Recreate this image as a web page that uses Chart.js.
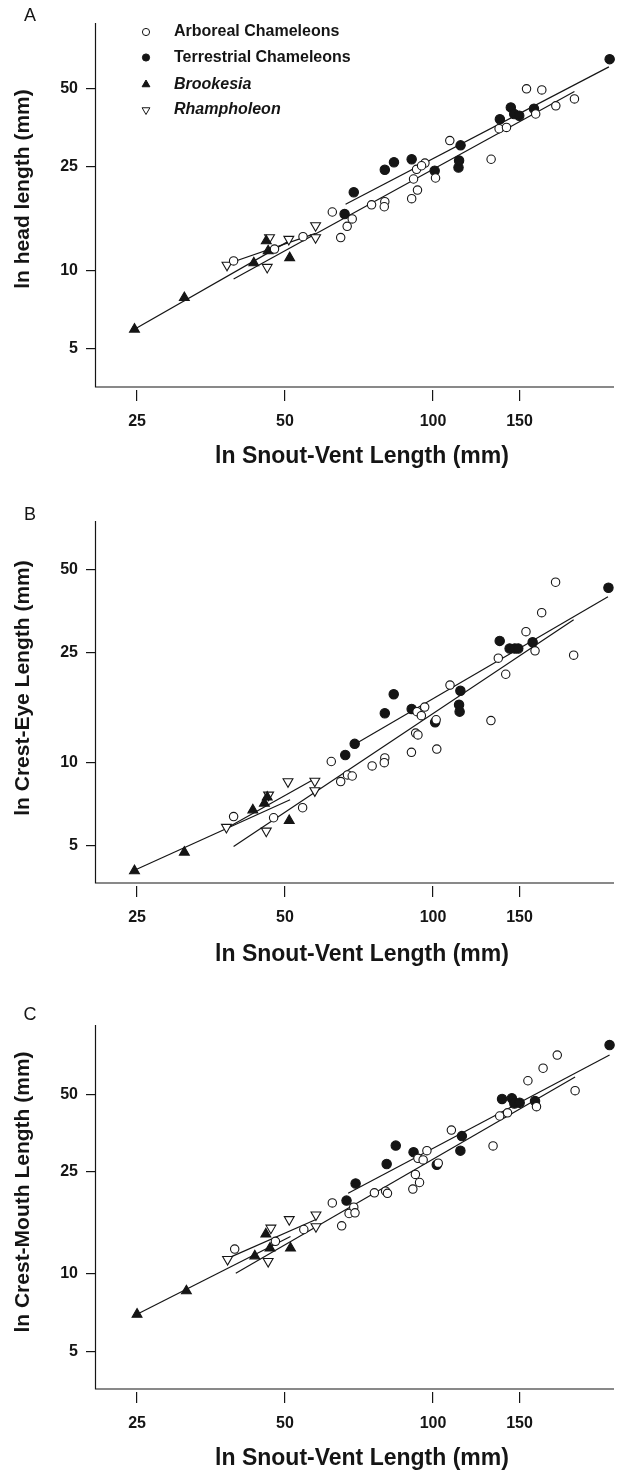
<!DOCTYPE html>
<html>
<head>
<meta charset="utf-8">
<title>Head dimensions vs snout-vent length</title>
<script src="https://cdn.jsdelivr.net/npm/chart.js@4.4.1/dist/chart.umd.min.js"></script>
<style>
  body { margin: 0; background: #fff; }
  canvas { display: block; }
</style>
</head>
<body>
<canvas id="chartA" width="623" height="480"></canvas>
<canvas id="chartB" width="623" height="490"></canvas>
<canvas id="chartC" width="623" height="506"></canvas>
<script>
// ticks
var svlTicks = [25, 50, 100, 150];
var sizeTicks = [5, 10, 25, 50];
var groupNames = ['Arboreal Chameleons', 'Terrestrial Chameleons', 'Brookesia', 'Rhampholeon'];

// A: head length
var arborealA_svl = [39.3, 47.6, 54.4, 62.4, 64.9, 66.9, 68.5, 75.0, 79.8, 79.6, 90.5, 93.0, 91.3, 92.6, 96.3, 94.8, 101.2, 108.2, 131.3, 136.3, 141.1, 155.0, 166.5, 161.8, 177.8, 194.0];
var arborealA_len = [10.9, 12.1, 13.5, 16.8, 13.4, 14.8, 15.8, 17.9, 18.4, 17.6, 18.9, 20.4, 22.5, 24.5, 25.9, 25.3, 22.7, 31.6, 26.8, 35.1, 35.5, 50.0, 49.5, 40.0, 43.0, 45.7];
var terrestrialA_svl = [66.1, 69.0, 79.8, 83.3, 90.5, 100.8, 112.7, 113.0, 113.8, 136.8, 144.0, 146.3, 149.8, 160.5, 228.8];
var terrestrialA_len = [16.5, 20.0, 24.4, 26.1, 26.8, 24.2, 24.9, 26.5, 30.3, 38.2, 42.4, 40.0, 39.4, 41.9, 65.0];
var brookesiaA_svl = [24.7, 31.2, 43.2, 45.8, 46.2, 51.1];
var brookesiaA_len = [5.95, 7.87, 10.7, 13.0, 11.9, 11.2];
var rhampholeonA_svl = [38.1, 46.0, 46.5, 50.9, 57.7, 57.7];
var rhampholeonA_len = [10.5, 10.3, 13.4, 13.2, 14.9, 13.4];
// A: fitted lines (end points)
var fitA_arb_svl = [39.3, 194.0], fitA_arb_len = [9.29, 48.8];
var fitA_ter_svl = [66.4, 228.0], fitA_ter_len = [18.0, 60.7];
var fitA_bro_svl = [24.7, 51.3], fitA_bro_len = [5.95, 13.1];
var fitA_rha_svl = [38.1, 57.7], fitA_rha_len = [10.6, 13.9];

// B: crest-eye length
var arborealB_svl = [39.3, 47.4, 54.3, 62.1, 64.9, 67.0, 68.5, 75.2, 79.8, 79.6, 90.4, 92.2, 93.2, 101.8, 96.2, 92.8, 94.7, 101.5, 108.3, 131.2, 135.8, 140.6, 154.6, 161.3, 166.4, 177.6, 193.3];
var arborealB_len = [6.38, 6.32, 6.87, 10.1, 8.54, 9.03, 8.95, 9.73, 10.4, 10.0, 10.9, 12.8, 12.6, 11.2, 15.9, 15.3, 14.8, 14.3, 19.1, 14.2, 23.9, 20.9, 29.8, 25.4, 34.9, 45.0, 24.5];
var terrestrialB_svl = [66.3, 69.3, 79.8, 83.2, 90.5, 101.0, 113.0, 113.3, 113.7, 136.7, 143.2, 146.7, 149.1, 159.5, 227.5];
var terrestrialB_len = [10.66, 11.7, 15.1, 17.7, 15.65, 14.0, 16.2, 15.3, 18.2, 27.6, 25.9, 25.9, 25.9, 27.3, 43.0];
var brookesiaB_svl = [24.7, 31.2, 43.0, 45.4, 46.0, 51.0];
var brookesiaB_len = [4.06, 4.74, 6.74, 7.13, 7.5, 6.17];
var rhampholeonB_svl = [38.0, 45.8, 46.3, 50.7, 57.5, 57.5];
var rhampholeonB_len = [5.84, 5.66, 7.64, 8.54, 8.58, 7.92];
var fitB_arb_svl = [39.3, 193.3], fitB_arb_len = [4.97, 32.9];
var fitB_ter_svl = [69.9, 227.0], fitB_ter_len = [11.75, 39.9];
var fitB_bro_svl = [24.7, 51.2], fitB_bro_len = [4.08, 7.34];
var fitB_rha_svl = [38.0, 56.9], fitB_rha_len = [5.79, 8.66];

// C: crest-mouth length
var arborealC_svl = [39.5, 47.8, 54.6, 62.4, 65.2, 67.5, 69.0, 69.4, 76.0, 80.1, 80.8, 91.0, 93.9, 92.1, 93.2, 95.5, 97.2, 102.5, 109.0, 132.5, 136.7, 141.8, 156.0, 167.5, 179.0, 162.4, 194.6];
var arborealC_len = [12.5, 13.4, 14.9, 18.9, 15.4, 17.2, 18.2, 17.3, 20.7, 21.0, 20.6, 21.4, 22.7, 24.4, 28.2, 27.8, 30.2, 27.0, 36.3, 31.5, 41.2, 42.4, 56.5, 63.2, 71.1, 44.8, 51.7];
var terrestrialC_svl = [66.7, 69.6, 80.5, 84.0, 91.3, 101.8, 113.7, 114.5, 138.2, 144.7, 146.4, 150.1, 161.3, 228.7];
var terrestrialC_len = [19.3, 22.5, 26.8, 31.6, 29.8, 26.6, 30.2, 34.4, 48.0, 48.3, 46.1, 46.4, 47.1, 77.8];
var brookesiaC_svl = [25.0, 31.5, 43.4, 45.7, 46.6, 51.3];
var brookesiaC_len = [6.97, 8.59, 11.75, 14.3, 12.6, 12.6];
var rhampholeonC_svl = [38.2, 46.2, 46.8, 51.0, 57.8, 57.8];
var rhampholeonC_len = [11.4, 11.2, 15.1, 16.3, 17.0, 15.3];
var fitC_arb_svl = [39.7, 194.6], fitC_arb_len = [10.06, 58.4];
var fitC_ter_svl = [67.2, 228.7], fitC_ter_len = [20.6, 71.1];
var fitC_bro_svl = [25.0, 51.3], fitC_bro_len = [6.97, 14.0];
var fitC_rha_svl = [38.2, 57.8], fitC_rha_len = [11.5, 16.3];

var FONT = "'Liberation Sans', Arial, Helvetica, sans-serif";
var ink = '#151515';

function pts(xs, ys) {
  return xs.map(function (x, i) { return { x: x, y: ys[i] }; });
}

function fitLine(xs, ys) {
  return { data: pts(xs, ys), showLine: true, borderColor: ink, borderWidth: 1.2, pointRadius: 0, order: 5, clip: false };
}

function markers(name, xs, ys, style, fillColor, radius, rot) {
  return {
    label: name, data: pts(xs, ys), order: 1, clip: false,
    pointStyle: style, pointRotation: rot || 0, pointRadius: radius,
    pointBackgroundColor: fillColor, pointBorderColor: ink, pointBorderWidth: 1.1
  };
}

// axis lines, x axis sits a little above its tick marks
var axisLines = {
  id: 'axisLines',
  afterDraw: function (chart) {
    var a = chart.chartArea, ctx = chart.ctx;
    ctx.save();
    ctx.strokeStyle = ink;
    ctx.lineWidth = 1.2;
    ctx.beginPath();
    ctx.moveTo(a.left + 0.5, a.top);
    ctx.lineTo(a.left + 0.5, a.bottom - 3);
    ctx.lineTo(a.right, a.bottom - 3);
    ctx.stroke();
    ctx.restore();
  }
};

var panelText = {
  id: 'panelText',
  afterDraw: function (chart, args, o) {
    var ctx = chart.ctx;
    ctx.save();
    ctx.fillStyle = ink;
    ctx.textAlign = 'center';
    ctx.textBaseline = 'middle';
    ctx.font = '18px ' + FONT;
    ctx.fillText(o.letter, 30, o.letterY);
    ctx.font = 'bold 23px ' + FONT;
    ctx.fillText(o.xTitle, 362, o.xTitleY);
    ctx.translate(23, o.yTitleY);
    ctx.rotate(-Math.PI / 2);
    ctx.font = 'bold 21px ' + FONT;
    ctx.fillText(o.yTitle, 0, 0);
    ctx.restore();
  }
};

var legendBox = {
  id: 'legendBox',
  afterDatasetsDraw: function (chart) {
    var ctx = chart.ctx;
    var rows = [32, 57.5, 84.5, 110];
    ctx.save();
    groupNames.forEach(function (name, i) {
      var ds = chart.data.datasets[4 + i];
      ctx.fillStyle = ds.pointBackgroundColor;
      ctx.strokeStyle = ink;
      ctx.lineWidth = 1;
      Chart.helpers.drawPoint(ctx, {
        pointStyle: ds.pointStyle, rotation: ds.pointRotation, radius: ds.pointStyle === 'triangle' ? 4.5 : 3.6, borderWidth: 1
      }, 146, rows[i]);
      ctx.fillStyle = ink;
      ctx.font = (i >= 2 ? 'italic ' : '') + 'bold 16px ' + FONT;
      ctx.textAlign = 'left';
      ctx.textBaseline = 'middle';
      ctx.fillText(name, 174, rows[i]);
    });
    ctx.restore();
  }
};

function makePanel(id, p) {
  var datasets = [
    fitLine(p.fits[0][0], p.fits[0][1]),
    fitLine(p.fits[1][0], p.fits[1][1]),
    fitLine(p.fits[2][0], p.fits[2][1]),
    fitLine(p.fits[3][0], p.fits[3][1]),
    markers(groupNames[0], p.arb[0], p.arb[1], 'circle', '#fff', 4.2),
    markers(groupNames[1], p.ter[0], p.ter[1], 'circle', ink, 4.7),
    markers(groupNames[2], p.bro[0], p.bro[1], 'triangle', ink, 5.7),
    markers(groupNames[3], p.rha[0], p.rha[1], 'triangle', '#fff', 5.7, 180)
  ];
  var plugins = [axisLines, panelText];
  if (p.legend) plugins.push(legendBox);
  return new Chart(document.getElementById(id), {
    type: 'scatter',
    data: { datasets: datasets },
    options: {
      responsive: false,
      animation: false,
      events: [],
      layout: { padding: { top: p.top, right: 9, bottom: 0, left: 0 } },
      plugins: {
        legend: { display: false },
        tooltip: { enabled: false },
        panelText: p.text
      },
      scales: {
        x: {
          type: 'logarithmic', bounds: 'data', min: 20.53, max: 233.5,
          afterBuildTicks: function (s) { s.ticks = svlTicks.map(function (v) { return { value: v }; }); },
          afterFit: function (s) { s.height = p.xAxisHeight; },
          border: { display: false },
          grid: { drawOnChartArea: false, tickLength: 11, color: ink, lineWidth: 1.2 },
          ticks: {
            autoSkip: false, maxRotation: 0, padding: 11, color: ink,
            font: { family: FONT, size: 16, weight: 'bold' },
            callback: function (v) { return String(v); }
          }
        },
        y: {
          type: 'logarithmic', bounds: 'data', min: p.yMin, max: p.yMax,
          afterBuildTicks: function (s) { s.ticks = sizeTicks.map(function (v) { return { value: v }; }); },
          afterFit: function (s) { s.width = 95; },
          border: { display: false },
          grid: { drawOnChartArea: false, tickLength: 9, color: ink, lineWidth: 1.2 },
          ticks: {
            autoSkip: false, padding: 8, color: ink,
            font: { family: FONT, size: 16, weight: 'bold' },
            callback: function (v) { return String(v); }
          }
        }
      }
    },
    plugins: plugins
  });
}

makePanel('chartA', {
  top: 23, xAxisHeight: 90, yMin: 3.476, yMax: 89.5, legend: true,
  arb: [arborealA_svl, arborealA_len], ter: [terrestrialA_svl, terrestrialA_len],
  bro: [brookesiaA_svl, brookesiaA_len], rha: [rhampholeonA_svl, rhampholeonA_len],
  fits: [[fitA_arb_svl, fitA_arb_len], [fitA_ter_svl, fitA_ter_len], [fitA_bro_svl, fitA_bro_len], [fitA_rha_svl, fitA_rha_len]],
  text: { letter: 'A', letterY: 16, xTitle: 'ln Snout-Vent Length (mm)', xTitleY: 457, yTitle: 'ln head length (mm)', yTitleY: 189 }
});

makePanel('chartB', {
  top: 41, xAxisHeight: 84, yMin: 3.578, yMax: 74.96,
  arb: [arborealB_svl, arborealB_len], ter: [terrestrialB_svl, terrestrialB_len],
  bro: [brookesiaB_svl, brookesiaB_len], rha: [rhampholeonB_svl, rhampholeonB_len],
  fits: [[fitB_arb_svl, fitB_arb_len], [fitB_ter_svl, fitB_ter_len], [fitB_bro_svl, fitB_bro_len], [fitB_rha_svl, fitB_rha_len]],
  text: { letter: 'B', letterY: 35, xTitle: 'ln Snout-Vent Length (mm)', xTitleY: 475, yTitle: 'ln Crest-Eye Length (mm)', yTitleY: 208 }
});

makePanel('chartC', {
  top: 55, xAxisHeight: 84, yMin: 3.474, yMax: 93.1,
  arb: [arborealC_svl, arborealC_len], ter: [terrestrialC_svl, terrestrialC_len],
  bro: [brookesiaC_svl, brookesiaC_len], rha: [rhampholeonC_svl, rhampholeonC_len],
  fits: [[fitC_arb_svl, fitC_arb_len], [fitC_ter_svl, fitC_ter_len], [fitC_bro_svl, fitC_bro_len], [fitC_rha_svl, fitC_rha_len]],
  text: { letter: 'C', letterY: 45, xTitle: 'ln Snout-Vent Length (mm)', xTitleY: 489, yTitle: 'ln Crest-Mouth Length (mm)', yTitleY: 222 }
});
</script>
</body>
</html>
